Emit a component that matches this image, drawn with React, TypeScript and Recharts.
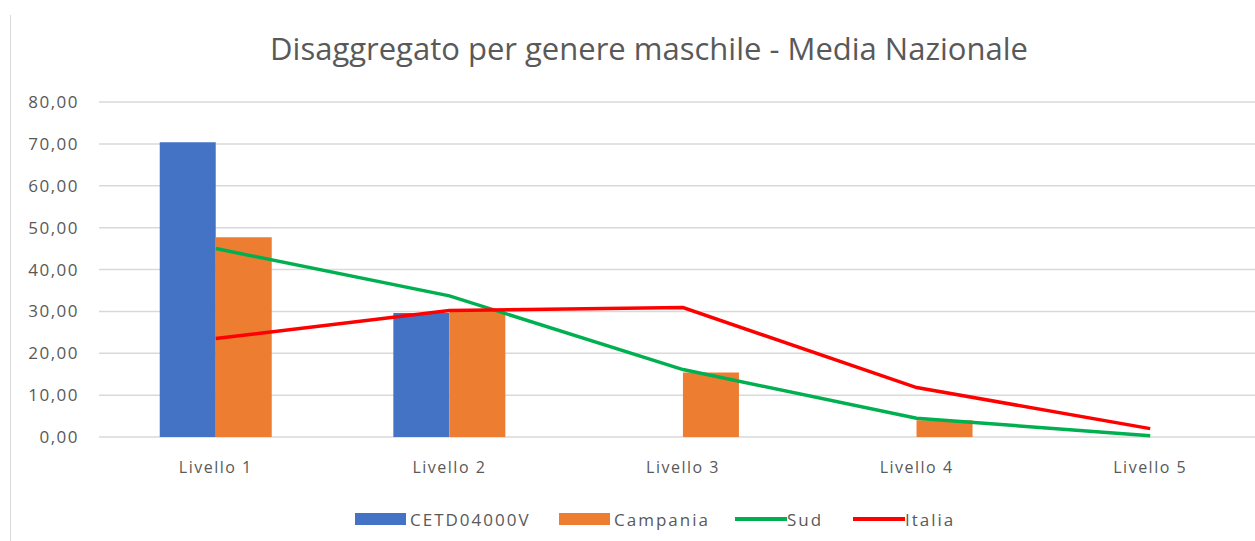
import { ComposedChart, Bar, Line, XAxis, YAxis, CartesianGrid } from 'recharts';

const livelli = ['Livello 1', 'Livello 2', 'Livello 3', 'Livello 4', 'Livello 5'];
const scuola = [70.4, 29.6, 0, 0, 0];
const campania = [47.7, 30.2, 15.4, 4.0, 0];
const sud = [45.0, 33.7, 16.1, 4.5, 0.3];
const italia = [23.5, 30.2, 30.9, 11.8, 2.0];
const yTicks = [0, 10, 20, 30, 40, 50, 60, 70, 80];

const data = livelli.map((name, i) => ({
  name,
  scuola: scuola[i],
  campania: campania[i],
  sud: sud[i],
  italia: italia[i],
}));

const FONT = '"Open Sans", sans-serif';
const TEXT = '#595959';

const legendItems = [
  { label: 'CETD04000V', color: '#4472C4', kind: 'bar' },
  { label: 'Campania', color: '#ED7D31', kind: 'bar' },
  { label: 'Sud', color: '#00B050', kind: 'line' },
  { label: 'Italia', color: '#FF0000', kind: 'line' },
];

const fmt = (v: number) => v.toFixed(2).replace('.', ',');

export default function App() {
  return (
    <div
      style={{
        position: 'fixed',
        top: 0,
        left: 0,
        width: 1255,
        height: 541,
        overflow: 'hidden',
        background: '#fff',
        fontFamily: FONT,
      }}
    >
      <div style={{ position: 'absolute', left: 10, top: 15, bottom: 0, borderLeft: '1.5px solid #d9d9d9' }} />
      <div
        style={{
          position: 'absolute',
          top: 28,
          left: 0,
          width: 1298,
          textAlign: 'center',
          fontSize: 31,
          lineHeight: '40px',
          color: TEXT,
        }}
      >
        Disaggregato per genere maschile - Media Nazionale
      </div>
      <ComposedChart
        width={1275}
        height={541}
        data={data}
        margin={{ top: 102, right: 8, bottom: 0, left: 0 }}
        barGap={0}
        barCategoryGap="26%"
        style={{ position: 'absolute', top: 0, left: 0 }}
      >
        <CartesianGrid vertical={false} stroke="#d9d9d9" strokeWidth={1.5} />
        <XAxis
          dataKey="name"
          height={104}
          axisLine={false}
          tickLine={false}
          tickSize={0}
          tickMargin={25}
          tick={{ fontSize: 16, fill: TEXT, fontFamily: FONT, letterSpacing: 1.5 }}
          interval={0}
        />
        <YAxis
          width={99}
          domain={[0, 80]}
          ticks={yTicks}
          axisLine={false}
          tickLine={false}
          tickSize={0}
          tickMargin={20}
          tickFormatter={fmt}
          tick={{ fontSize: 17, fill: TEXT, fontFamily: FONT, letterSpacing: 1.5 }}
        />
        <Bar dataKey="scuola" fill="#4472C4" isAnimationActive={false} />
        <Bar dataKey="campania" fill="#ED7D31" isAnimationActive={false} />
        <Line dataKey="sud" stroke="#00B050" strokeWidth={3.5} dot={false} activeDot={false} isAnimationActive={false} />
        <Line dataKey="italia" stroke="#FF0000" strokeWidth={3.5} dot={false} activeDot={false} isAnimationActive={false} />
      </ComposedChart>
      <div style={{ position: 'absolute', top: 508, left: 0, width: 1255, height: 22 }}>
        {legendItems.map((it, i) => {
          const lefts = [355, 559, 735, 853];
          const w = it.kind === 'bar' ? 51 : 52;
          return (
            <div key={it.label} style={{ position: 'absolute', left: lefts[i], top: 0, height: 22, display: 'flex', alignItems: 'center' }}>
              <div
                style={{
                  width: w,
                  height: it.kind === 'bar' ? 12 : 3.5,
                  background: it.color,
                  marginRight: it.kind === 'bar' ? 4 : 0,
                }}
              />
              <span style={{ fontSize: 17, color: TEXT, letterSpacing: 2 }}>{it.label}</span>
            </div>
          );
        })}
      </div>
    </div>
  );
}
